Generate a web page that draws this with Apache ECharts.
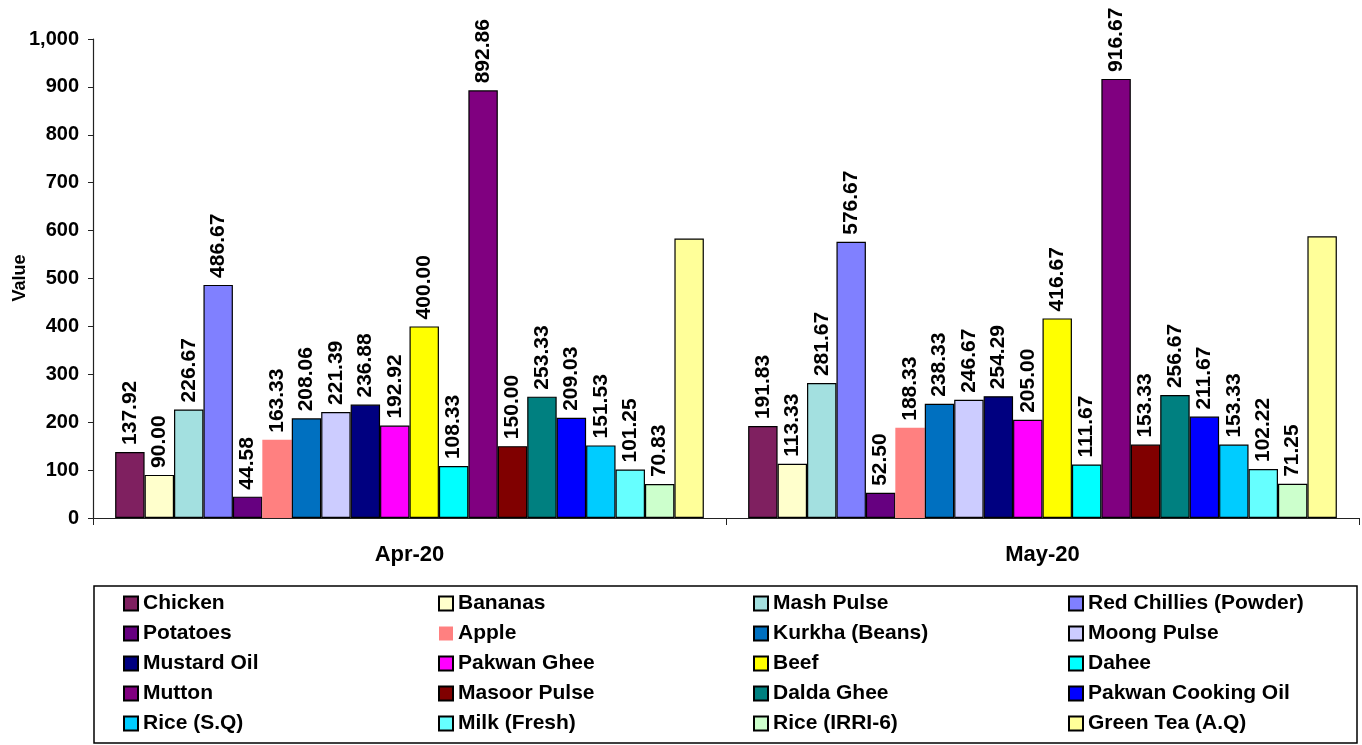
<!DOCTYPE html>
<html>
<head>
<meta charset="utf-8">
<title>Prices Apr-20 / May-20</title>
<script src="https://cdn.jsdelivr.net/npm/echarts@6/dist/echarts.min.js"></script>
<style>
  html, body { margin: 0; padding: 0; background: #fff; }
  #chart { width: 1362px; height: 745px; }
</style>
</head>
<body>
<div id="chart"></div>
<script>
// months on the x axis
var months = ['Apr-20', 'May-20'];

// items, in legend order (row by row)
var items = [
  'Chicken', 'Bananas', 'Mash Pulse', 'Red Chillies (Powder)',
  'Potatoes', 'Apple', 'Kurkha (Beans)', 'Moong Pulse',
  'Mustard Oil', 'Pakwan Ghee', 'Beef', 'Dahee',
  'Mutton', 'Masoor Pulse', 'Dalda Ghee', 'Pakwan Cooking Oil',
  'Rice (S.Q)', 'Milk (Fresh)', 'Rice (IRRI-6)', 'Green Tea (A.Q)'
];

var apr20 = [137.92, 90.00, 226.67, 486.67, 44.58, 163.33, 208.06, 221.39, 236.88, 192.92,
             400.00, 108.33, 892.86, 150.00, 253.33, 209.03, 151.53, 101.25, 70.83, 583.33];
var may20 = [191.83, 113.33, 281.67, 576.67, 52.50, 188.33, 238.33, 246.67, 254.29, 205.00,
             416.67, 111.67, 916.67, 153.33, 256.67, 211.67, 153.33, 102.22, 71.25, 588.00];

// y axis ticks
var yTicks = [0, 100, 200, 300, 400, 500, 600, 700, 800, 900, 1000];

var colors = [
  '#7F2060', '#FFFFCC', '#A3E0E0', '#8080FF',
  '#660080', '#FF8080', '#0070C0', '#CCCCFF',
  '#000080', '#FF00FF', '#FFFF00', '#00FFFF',
  '#800080', '#800000', '#008080', '#0000FF',
  '#00CCFF', '#66FFFF', '#CCFFCC', '#FFFF99'
];

var font = 'Liberation Sans, Arial, sans-serif';

var chart = echarts.init(document.getElementById('chart'));

var series = items.map(function (name, i) {
  return {
    name: name,
    type: 'bar',
    barGap: '0%',
    barCategoryGap: '7%',
    data: [apr20[i], may20[i]],
    itemStyle: {
      color: colors[i],
      borderColor: '#000',
      borderWidth: name === 'Apple' ? 0 : 1.2
    },
    label: {
      show: name !== 'Green Tea (A.Q)',
      position: 'top',
      rotate: 90,
      align: 'left',
      verticalAlign: 'middle',
      distance: 7,
      color: '#000',
      fontFamily: font,
      fontWeight: 'bold',
      fontSize: 21,
      formatter: function (p) { return p.value.toFixed(2); }
    }
  };
});

// legend: 4 columns, one vertical legend per column
var colX = [123, 438, 753, 1068];
var legends = colX.map(function (x, c) {
  return {
    orient: 'vertical',
    left: x,
    top: 593,
    height: 160,
    padding: 0,
    itemWidth: 14,
    itemHeight: 14,
    itemGap: 9,
    icon: 'rect',
    selectedMode: false,
    data: items.filter(function (n, i) { return i % 4 === c; }),
    textStyle: {
      color: '#000',
      fontFamily: font,
      fontWeight: 'bold',
      fontSize: 21,
      lineHeight: 21
    }
  };
});

var option = {
  animation: false,
  backgroundColor: '#fff',
  grid: { left: 93, right: 3, top: 39, bottom: 227, outerBoundsMode: 'none' },
  legend: legends,
  graphic: [{
    // legend frame
    type: 'rect',
    shape: { x: 94, y: 586, width: 1263, height: 157 },
    style: { fill: 'none', stroke: '#000', lineWidth: 1.5 },
    z: -1
  }, {
    // y axis title
    type: 'text',
    x: 20,
    y: 278,
    rotation: Math.PI / 2,
    style: {
      text: 'Value',
      fill: '#000',
      font: 'bold 18px ' + font,
      textAlign: 'center',
      textVerticalAlign: 'middle'
    }
  }],
  xAxis: {
    type: 'category',
    data: months,
    axisLine: { lineStyle: { color: '#222', width: 1.2 } },
    axisTick: { show: true, length: 7, lineStyle: { color: '#222' } },
    axisLabel: {
      color: '#000',
      fontFamily: font,
      fontWeight: 'bold',
      fontSize: 22,
      margin: 26
    }
  },
  yAxis: {
    type: 'value',
    min: yTicks[0],
    max: yTicks[yTicks.length - 1],
    interval: 100,
    axisLine: { show: true, lineStyle: { color: '#222', width: 1.2 } },
    axisTick: { show: true, length: 5, lineStyle: { color: '#222' } },
    splitLine: { show: false },
    axisLabel: {
      color: '#000',
      fontFamily: font,
      fontWeight: 'bold',
      fontSize: 20,
      margin: 14,
      formatter: function (v) { return v.toLocaleString('en-US'); }
    }
  },
  series: series
};

chart.setOption(option);
</script>
</body>
</html>
